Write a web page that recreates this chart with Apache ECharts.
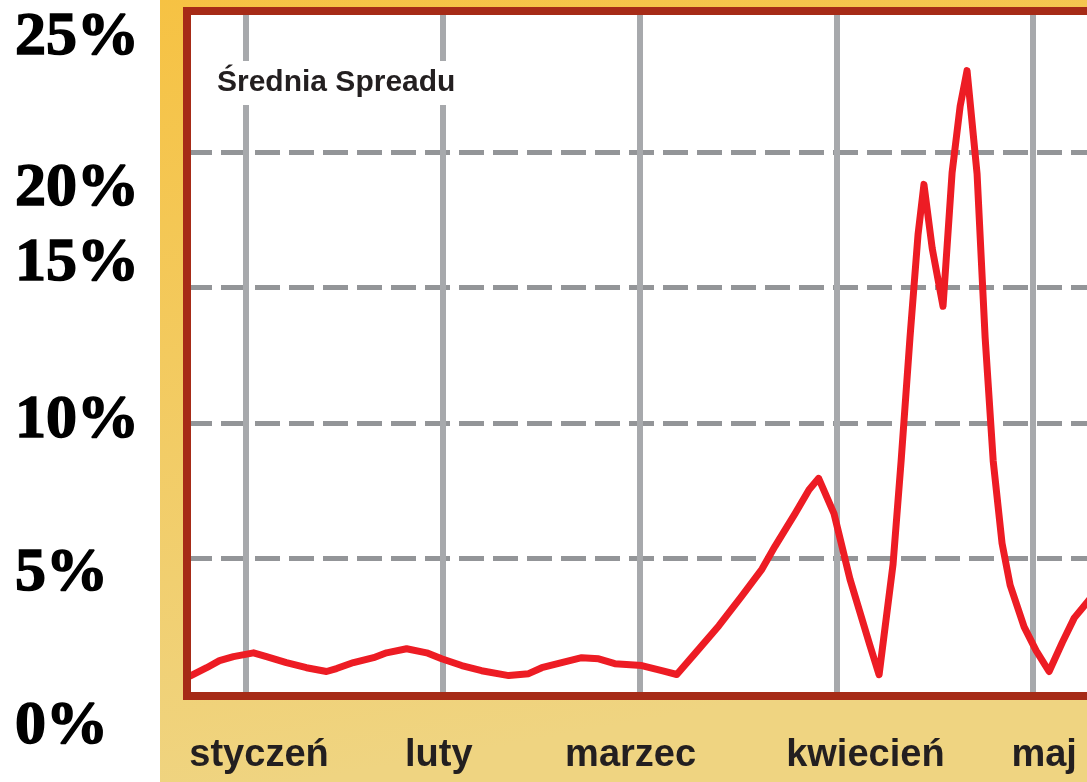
<!DOCTYPE html>
<html><head><meta charset="utf-8">
<script src="https://cdn.jsdelivr.net/npm/echarts@6/dist/echarts.min.js"></script>
<style>html,body{margin:0;padding:0;background:#fff;overflow:hidden}#c{width:1087px;height:782px}</style>
</head><body><div id="c"></div>
<script>
// ---- data ----
const months = ['styczeń', 'luty', 'marzec', 'kwiecień', 'maj'];
const monthTicks = [1, 2, 3, 4, 5];
const yLabelTicks = [0, 5, 10, 15, 20, 25];
const yGridTicks = [5, 10, 15, 20];
const titleText = 'Średnia Spreadu';
// x position in months (1 = styczeń line), y value in %
const xPos = [0.72, 0.80, 0.865, 0.936, 1.038, 1.104, 1.205, 1.307, 1.409, 1.46, 1.546, 1.648, 1.714, 1.816, 1.918, 1.994,
  2.096, 2.197, 2.335, 2.436, 2.503, 2.604, 2.706, 2.792, 2.874, 3.011, 3.113, 3.189, 3.281, 3.403, 3.52, 3.622, 3.688,
  3.79, 3.861, 3.91, 3.988, 4.069, 4.171, 4.217, 4.288, 4.329, 4.374, 4.415, 4.445, 4.487, 4.542, 4.588, 4.629, 4.664,
  4.715, 4.756, 4.797, 4.842, 4.883, 4.954, 5.015, 5.081, 5.148, 5.209, 5.30];
const values = [0.67, 0.96, 1.22, 1.37, 1.51, 1.37, 1.15, 0.96, 0.82, 0.93, 1.15, 1.33, 1.51, 1.66, 1.51, 1.29,
  1.04, 0.85, 0.67, 0.74, 0.96, 1.15, 1.33, 1.29, 1.11, 1.04, 0.85, 0.71, 1.48, 2.51, 3.61, 4.60, 5.44,
  6.65, 7.53, 7.95, 6.65, 4.23, 1.77, 0.7, 4.78, 8.59, 13.14, 16.95, 18.8, 16.44, 14.3, 19.23, 21.69, 23.0,
  19.19, 13.14, 8.59, 5.55, 4.01, 2.47, 1.59, 0.82, 1.89, 2.80, 3.60];

// ---- chart ----
const chart = echarts.init(document.getElementById('c'), null, {renderer: 'canvas'});
const sans = "'Liberation Sans', Arial, sans-serif";
const serif = "'Liberation Serif', 'Times New Roman', serif";

const yRich = {
  y25: {padding: [44, 0, 0, 0]},
  y20: {padding: [74, 0, 0, 0]},
  y15: {padding: [0, 0, 46, 0]},
  y10: {padding: [0, 0, 4, 0]},
  y5: {padding: [32, 0, 0, 0]},
  y0: {padding: [66, 0, 0, 0]}
};
Object.keys(yRich).forEach(k => Object.assign(yRich[k], {
  fontFamily: serif, fontWeight: 'bold', fontSize: 62, color: '#000',
  textBorderColor: '#000', textBorderWidth: 1.5
}));
const xShift = [13, -4, -9, 29, 11];
const xRich = {};
xShift.forEach((s, i) => {
  xRich['m' + i] = {
    padding: s >= 0 ? [0, 0, 0, 2 * s] : [0, -2 * s, 0, 0],
    fontFamily: sans, fontWeight: 'bold', fontSize: 38, color: '#231f20'
  };
});

const data = xPos.map((x, i) => [x, values[i]]);

chart.setOption({
  animation: false,
  backgroundColor: '#ffffff',
  graphic: [{
    type: 'rect', z: -10, silent: true,
    shape: {x: 160, y: 0, width: 927, height: 782},
    style: {fill: new echarts.graphic.LinearGradient(0, 0, 0.15, 1, [
      {offset: 0, color: '#f6c243'},
      {offset: 1, color: '#efd481'}
    ])}
  }, {
    // plot frame drawn on top of the grid lines
    type: 'rect', z: 100, silent: true,
    shape: {x: 187, y: 11, width: 917, height: 685},
    style: {fill: null, stroke: '#a62b17', lineWidth: 8}
  }],
  title: {
    text: titleText, left: 213, top: 61, padding: [0, 4, 0, 4],
    backgroundColor: '#ffffff',
    textStyle: {fontFamily: sans, fontWeight: 'bold', fontSize: 30, lineHeight: 44, color: '#231f20'}
  },
  grid: {
    left: 187, top: 11, width: 917, bottom: 86,
    show: true, backgroundColor: '#ffffff', borderWidth: 0,
    containLabel: false, outerBoundsMode: 'none'
  },
  xAxis: {
    type: 'value', min: 0.7, max: 5.36,
    axisLine: {show: false}, axisTick: {show: false, customValues: monthTicks},
    splitLine: {show: true, lineStyle: {color: '#a7a9ac', width: 6, type: 'solid'}},
    axisLabel: {
      customValues: monthTicks, margin: 41,
      formatter: v => '{m' + (v - 1) + '|' + months[v - 1] + '}',
      rich: xRich
    }
  },
  yAxis: {
    type: 'value', min: -0.084, max: 25.2,
    axisLine: {show: false}, axisTick: {show: false, customValues: yGridTicks},
    splitLine: {show: true, lineStyle: {color: '#939598', width: 5, type: [25, 9]}},
    axisLabel: {
      customValues: yLabelTicks, margin: 172, align: 'left',
      formatter: v => '{y' + v + '|' + v + '%}',
      rich: yRich
    }
  },
  series: [{
    type: 'line', data: data, symbol: 'none', smooth: false,
    lineStyle: {color: '#ed1c24', width: 7, join: 'round', cap: 'round'},
    z: 5
  }]
});
</script></body></html>
